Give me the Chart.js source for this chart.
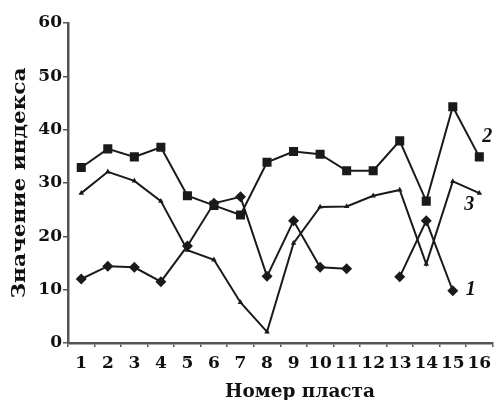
<!DOCTYPE html>
<html><head><meta charset="utf-8">
<script src="https://cdn.jsdelivr.net/npm/chart.js@4"></script>
<style>html,body{margin:0;padding:0;background:#fff}#w{width:499px;height:400px}</style>
</head><body><div id="w"><canvas id="c" width="499" height="400"></canvas></div>
<script>
const categories = ['1','2','3','4','5','6','7','8','9','10','11','12','13','14','15','16'];
const series1 = [12.0, 14.4, 14.2, 11.5, 18.2, 26.2, 27.4, 12.5, 22.9, 14.2, 13.9, null, 12.4, 22.9, 9.8, null];
const series2 = [32.9, 36.4, 34.9, 36.7, 27.6, 25.8, 24.0, 33.9, 35.9, 35.4, 32.3, 32.3, 37.9, 26.6, 44.3, 34.9];
const series3 = [28.1, 32.1, 30.4, 26.6, 17.4, 15.6, 7.6, 2.1, 18.7, 25.5, 25.6, 27.6, 28.7, 14.8, 30.3, 28.1];
const seriesNames = ['1', '2', '3'];
const yTicks = [0, 10, 20, 30, 40, 50, 60];
const yTitle = 'Значение индекса';
const xTitle = 'Номер пласта';

const LINE = '#1a1a1a';
const AXIS = '#555';
const FONT = '"DejaVu Serif", "Liberation Serif", serif';

function ds(data, style, r, name) {
  return { label: name, data, borderColor: LINE, backgroundColor: LINE, borderWidth: 2,
    pointStyle: style, pointRadius: r, pointHoverRadius: r, pointBorderWidth: 0,
    spanGaps: false, tension: 0, fill: false };
}

const labelPlugin = {
  id: 'labels',
  afterDraw(chart) {
    const ctx = chart.ctx, xs = chart.scales.x, ys = chart.scales.y;
    ctx.save();
    ctx.fillStyle = '#111';
    ctx.font = 'italic bold 20px "Liberation Serif", serif';
    ctx.textAlign = 'center'; ctx.textBaseline = 'middle';
    ctx.fillText(seriesNames[1], xs.getPixelForValue(15) + 8, ys.getPixelForValue(series2[15]) - 20);
    ctx.fillText(seriesNames[2], xs.getPixelForValue(15) - 10, ys.getPixelForValue(series3[15]) + 12);
    ctx.fillText(seriesNames[0], xs.getPixelForValue(14) + 18, ys.getPixelForValue(series1[14]) - 1);
    ctx.font = 'bold 19px ' + FONT;
    let w = ctx.measureText(xTitle).width;
    ctx.save();
    ctx.translate(300, 392);
    ctx.scale(150 / w, 1);
    ctx.fillText(xTitle, 0, 0);
    ctx.restore();
    w = ctx.measureText(yTitle).width;
    ctx.save();
    ctx.translate(20, 183);
    ctx.rotate(-Math.PI / 2);
    ctx.scale(231 / w, 1);
    ctx.fillText(yTitle, 0, 0);
    ctx.restore();
    ctx.restore();
  }
};

new Chart(document.getElementById('c'), {
  type: 'line',
  data: { labels: categories, datasets: [
    ds(series1, 'rectRot', 5.5, seriesNames[0]),
    ds(series2, 'rect', 6.4, seriesNames[1]),
    ds(series3, 'triangle', 3.2, seriesNames[2])
  ]},
  options: {
    responsive: false, animation: false, devicePixelRatio: 1,
    layout: { padding: { top: 23, right: 5, left: 0, bottom: 0 } },
    plugins: { legend: { display: false }, tooltip: { enabled: false } },
    scales: {
      x: {
        type: 'category', offset: true,
        grid: { display: true, drawOnChartArea: false, offset: true, tickLength: 4, color: AXIS, lineWidth: 1.5 },
        border: { display: true, color: AXIS, width: 2.5 },
        ticks: { color: '#111', font: { family: FONT, weight: 'bold', size: 17 }, padding: 6, maxRotation: 0, autoSkip: false },
        afterFit(s) { s.height = 57; }
      },
      y: {
        min: 0, max: 60,
        afterBuildTicks(s) { s.ticks = yTicks.map(v => ({ value: v })); },
        grid: { display: true, drawOnChartArea: false, tickLength: 5, color: AXIS, lineWidth: 1.5 },
        border: { display: true, color: AXIS, width: 2.5 },
        ticks: { color: '#111', font: { family: FONT, weight: 'bold', size: 17 }, padding: 1 },
        afterFit(s) { s.width = 68; }
      }
    }
  },
  plugins: [labelPlugin]
});
</script>
</body></html>
